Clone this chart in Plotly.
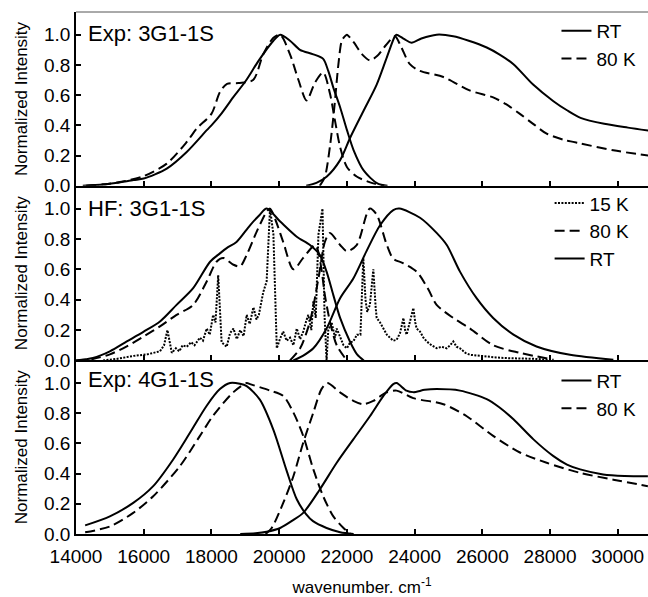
import plotly.graph_objects as go

FONT = "Liberation Sans, Arial, sans-serif"

# ---------------- Panel 1: Exp: 3G1-1S ----------------
p1_rt_em_x = [14200, 14800, 15200, 15700, 16000, 16680, 17270, 17870, 18000, 18300, 18640, 19000, 19400, 19830, 20030,
              20320, 20615, 21010, 21300, 21450, 21600, 21800, 22000, 22200, 22500, 22900, 23200]
p1_rt_em_y = [0.0, 0.008, 0.02, 0.038, 0.048, 0.114, 0.224, 0.37, 0.40, 0.48, 0.585, 0.69, 0.83, 0.96, 1.0,
              0.96, 0.90, 0.87, 0.84, 0.76, 0.65, 0.52, 0.37, 0.235, 0.10, 0.016, 0.0]
p1_80_em_x = [14300, 14800, 15300, 16000, 16680, 17270, 17570, 18000, 18250, 18460, 18800, 19230, 19530, 19830, 20030,
              20320, 20570, 20810, 21060, 21300, 21500, 21650, 21800, 22000, 22300, 22780, 23100]
p1_80_em_y = [0.0, 0.01, 0.025, 0.064, 0.147, 0.29, 0.38, 0.476, 0.62, 0.675, 0.68, 0.70, 0.87, 0.98, 1.0,
              0.87, 0.70, 0.565, 0.684, 0.75, 0.61, 0.43, 0.257, 0.125, 0.06, 0.016, 0.0]
p1_rt_ex_x = [20800, 21100, 21400, 21800, 22100, 22500, 22880, 23180, 23420, 23470, 23700, 23910, 24200, 24650, 25140,
              25600, 26130, 26500, 26920, 27500, 28100, 28500, 28900, 29600, 30300, 30900]
p1_rt_ex_y = [0.0, 0.02, 0.06, 0.17, 0.32, 0.50, 0.67, 0.85, 0.99, 1.0, 0.97, 0.947, 0.975, 1.0, 0.99,
              0.96, 0.915, 0.87, 0.805, 0.67, 0.56, 0.50, 0.45, 0.41, 0.385, 0.366]
p1_80_ex_x = [21200, 21350, 21500, 21630, 21750, 21850, 21944, 22000, 22200, 22450, 22680, 22900, 23150, 23420, 23600,
              23860, 24160, 24850, 25640, 26320, 26700, 27110, 27500, 27900, 28400, 28900, 29870, 30900]
p1_80_ex_y = [0.0, 0.06, 0.26, 0.52, 0.805, 0.96, 0.99, 1.0, 0.95, 0.87, 0.83, 0.86, 0.93, 0.99, 0.92,
              0.805, 0.76, 0.72, 0.63, 0.585, 0.54, 0.476, 0.41, 0.345, 0.305, 0.28, 0.235, 0.20]

# ---------------- Panel 2: HF: 3G1-1S ----------------
p2_15_x = [14800, 15200, 15700, 16100, 16480, 16600, 16700, 16760, 16830, 16950, 17050, 17150, 17270, 17400, 17500,
           17660, 17750, 17860, 17950, 18050, 18120, 18200, 18300, 18450, 18550, 18650, 18750, 18850, 18950, 19040,
           19130, 19240, 19330, 19400, 19530, 19630, 19730, 19830, 19930, 20020, 20120, 20220, 20320, 20420, 20520,
           20620, 20710, 20800, 20860, 20950, 21010, 21080, 21160, 21280, 21340, 21400, 21450, 21550, 21650, 21700,
           21800, 21900, 22000, 22100, 22190, 22300, 22400, 22485, 22550, 22600, 22680, 22781, 22850, 22880, 22980,
           23080, 23180, 23270, 23370, 23470, 23570, 23670, 23720, 23766, 23860, 23963, 24020, 24060, 24160, 24260,
           24357, 24500, 24652, 24800, 24947, 25050, 25143, 25240, 25341, 25500, 25636, 25900, 26130, 26400, 26620,
           27100, 27606, 28100]
p2_15_y = [0.0, 0.01, 0.03, 0.04, 0.06, 0.10, 0.20, 0.12, 0.05, 0.08, 0.06, 0.10, 0.09, 0.12, 0.10,
           0.15, 0.13, 0.21, 0.17, 0.30, 0.25, 0.56, 0.12, 0.09, 0.18, 0.21, 0.14, 0.20, 0.16, 0.30,
           0.24, 0.35, 0.27, 0.30, 0.45, 0.52, 1.0, 0.83, 0.08, 0.14, 0.19, 0.13, 0.15, 0.10, 0.21,
           0.14, 0.19, 0.26, 0.30, 0.20, 0.39, 0.28, 0.83, 1.0, 0.30, 0.0, 0.20, 0.25, 0.15, 0.21,
           0.15, 0.10, 0.08, 0.12, 0.125, 0.17, 0.17, 0.675, 0.40, 0.32, 0.366, 0.60, 0.35, 0.28, 0.25,
           0.21, 0.17, 0.15, 0.13, 0.136, 0.18, 0.28, 0.20, 0.17, 0.25, 0.345, 0.25, 0.21, 0.19, 0.15,
           0.125, 0.10, 0.08, 0.09, 0.08, 0.10, 0.125, 0.09, 0.08, 0.05, 0.037, 0.03, 0.026, 0.02, 0.016,
           0.012, 0.01, 0.0]
p2_80_em_x = [14000, 14500, 15000, 15500, 16000, 16480, 16970, 17460, 17860, 18150, 18350, 18650, 18850, 19040, 19340,
              19630, 19730, 19900, 20120, 20420, 20710, 21060, 21150, 21260, 21350, 21500, 21700, 22000]
p2_80_em_y = [0.0, 0.01, 0.04, 0.093, 0.158, 0.224, 0.30, 0.366, 0.52, 0.65, 0.675, 0.63, 0.62, 0.695, 0.85,
              0.98, 1.0, 0.92, 0.78, 0.60, 0.675, 0.76, 0.72, 0.585, 0.43, 0.257, 0.10, 0.0]
p2_80_ex_x = [20320, 20620, 20910, 21160, 21350, 21500, 21800, 22000, 22290, 22580, 22680, 22880, 23180, 23370, 23670,
              24060, 24400, 24650, 25140, 25640, 26320, 27110, 28100]
p2_80_ex_y = [0.0, 0.08, 0.257, 0.54, 0.78, 0.84, 0.76, 0.72, 0.76, 0.96, 1.0, 0.96, 0.76, 0.67, 0.64,
              0.585, 0.47, 0.366, 0.28, 0.21, 0.10, 0.05, 0.005]
p2_rt_em_x = [14000, 14500, 15000, 15500, 16000, 16480, 16970, 17460, 17960, 18250, 18450, 18740, 19140, 19430, 19630,
              20030, 20520, 20910, 21200, 21400, 21600, 21800, 22090, 22300, 22500]
p2_rt_em_y = [0.0, 0.016, 0.06, 0.125, 0.19, 0.257, 0.366, 0.476, 0.65, 0.705, 0.74, 0.78, 0.89, 0.96, 1.0,
              0.915, 0.815, 0.76, 0.695, 0.585, 0.43, 0.28, 0.125, 0.04, 0.0]
p2_rt_ex_x = [20420, 20700, 21010, 21400, 21800, 22190, 22580, 22980, 23370, 23550, 24160, 24650, 24950, 25340, 25830,
              26320, 26920, 27600, 28590, 29870]
p2_rt_ex_y = [0.0, 0.03, 0.08, 0.21, 0.41, 0.54, 0.72, 0.89, 0.99, 1.0, 0.94, 0.84, 0.76, 0.585, 0.41,
              0.28, 0.17, 0.092, 0.037, 0.005]

# ---------------- Panel 3: Exp: 4G1-1S ----------------
p3_rt_em_x = [14270, 15000, 15690, 16280, 16870, 17370, 17860, 18250, 18550, 18840, 19040, 19430, 19830, 20220, 20520,
              20800, 21000, 21400, 21800, 22200]
p3_rt_em_y = [0.057, 0.117, 0.206, 0.317, 0.494, 0.672, 0.85, 0.96, 1.0, 0.995, 0.98, 0.89, 0.69, 0.42, 0.23,
              0.13, 0.085, 0.04, 0.012, 0.0]
p3_80_em_x = [14270, 15000, 15690, 16280, 17070, 17660, 18050, 18650, 19040, 19140, 19730, 20120, 20420, 20710, 21010,
              21300, 21600, 21900, 22100]
p3_80_em_y = [0.011, 0.05, 0.14, 0.25, 0.45, 0.65, 0.784, 0.94, 1.0, 0.993, 0.95, 0.915, 0.805, 0.65, 0.428,
              0.25, 0.117, 0.04, 0.0]
p3_rt_ex_x = [18850, 19300, 19630, 20030, 20400, 20710, 21200, 21700, 22190, 22680, 23080, 23370, 23470, 23760, 23960,
              24300, 24650, 25340, 26130, 26500, 26920, 27510, 28100, 28500, 28890, 29570, 30200, 30890]
p3_rt_ex_y = [0.0, 0.005, 0.015, 0.04, 0.09, 0.14, 0.295, 0.472, 0.627, 0.78, 0.915, 0.993, 1.0, 0.95, 0.94,
              0.955, 0.96, 0.95, 0.894, 0.84, 0.76, 0.627, 0.516, 0.46, 0.428, 0.395, 0.385, 0.383]
p3_80_ex_x = [19600, 19780, 20120, 20420, 20710, 21010, 21250, 21420, 21800, 22190, 22480, 22780, 23170, 23470, 23960,
              24850, 25540, 26320, 27110, 27900, 28890, 29870, 30890]
p3_80_ex_y = [0.0, 0.04, 0.206, 0.383, 0.605, 0.805, 0.96, 1.0, 0.938, 0.882, 0.86, 0.882, 0.938, 0.95, 0.90,
              0.86, 0.78, 0.65, 0.54, 0.472, 0.405, 0.36, 0.317]

x_ticks = [14000, 16000, 18000, 20000, 22000, 24000, 26000, 28000, 30000]
x_tick_labels = ["14000", "16000", "18000", "20000", "22000", "24000", "26000", "28000", "30000"]
y_ticks = [0.0, 0.2, 0.4, 0.6, 0.8, 1.0]
y_tick_labels = ["0.0", "0.2", "0.4", "0.6", "0.8", "1.0"]
panel_titles = ["Exp: 3G1-1S", "HF: 3G1-1S", "Exp: 4G1-1S"]

DASH = "10px,5px"
DOT = "2px,1.4px"

fig = go.Figure()


def add(x, y, dash, name, legend, xa, ya, show, width=2.0, shape="spline"):
    fig.add_trace(go.Scatter(
        x=x, y=y, mode="lines", name=name, legendgroup=legend + name, showlegend=show,
        legend=legend, xaxis=xa, yaxis=ya, hoverinfo="skip",
        line=dict(color="black", width=width, dash=dash, shape=shape,
                  smoothing=0.8 if shape == "spline" else None)))


# panel 1 (top)
add(p1_rt_em_x, p1_rt_em_y, "solid", "RT", "legend", "x3", "y3", True)
add(p1_rt_ex_x, p1_rt_ex_y, "solid", "RT", "legend", "x3", "y3", False)
add(p1_80_em_x, p1_80_em_y, DASH, "80 K", "legend", "x3", "y3", True)
add(p1_80_ex_x, p1_80_ex_y, DASH, "80 K", "legend", "x3", "y3", False)
# panel 2 (middle)
add(p2_15_x, p2_15_y, DOT, "15 K", "legend2", "x2", "y2", True, width=2.0, shape="linear")
add(p2_80_em_x, p2_80_em_y, DASH, "80 K", "legend2", "x2", "y2", True)
add(p2_80_ex_x, p2_80_ex_y, DASH, "80 K", "legend2", "x2", "y2", False)
add(p2_rt_em_x, p2_rt_em_y, "solid", "RT", "legend2", "x2", "y2", True)
add(p2_rt_ex_x, p2_rt_ex_y, "solid", "RT", "legend2", "x2", "y2", False)
# panel 3 (bottom)
add(p3_rt_em_x, p3_rt_em_y, "solid", "RT", "legend3", "x", "y", True)
add(p3_rt_ex_x, p3_rt_ex_y, "solid", "RT", "legend3", "x", "y", False)
add(p3_80_em_x, p3_80_em_y, DASH, "80 K", "legend3", "x", "y", True)
add(p3_80_ex_x, p3_80_ex_y, DASH, "80 K", "legend3", "x", "y", False)

xbase = dict(range=[14000, 30893], tickvals=x_ticks, ticktext=x_tick_labels, ticks="inside", ticklen=5,
             tickwidth=1.5, tickcolor="black", showline=True, linecolor="black", linewidth=2,
             showgrid=False, zeroline=False, tickfont=dict(size=19, color="black", family=FONT))
ybase = dict(range=[0, 1.15], tickvals=y_ticks, ticktext=y_tick_labels, ticks="inside", ticklen=5,
             tickwidth=1.5, tickcolor="black", showline=True, linecolor="black", linewidth=1.5,
             showgrid=False, zeroline=False, tickfont=dict(size=19, color="black", family=FONT),
             title=dict(text="Normalized Intensity", font=dict(size=17, color="black", family=FONT),
                        standoff=12))

legbase = dict(font=dict(size=19, color="black", family=FONT), bgcolor="rgba(0,0,0,0)",
               borderwidth=0, xanchor="left", yanchor="top", tracegroupgap=0)

fig.update_layout(
    width=648, height=597,
    margin=dict(l=76, r=0, t=12, b=63),
    paper_bgcolor="white", plot_bgcolor="white",
    font=dict(family=FONT, color="black"),
    xaxis=dict(xbase, anchor="y", ticklabelstandoff=4,
               title=dict(text="wavenumber. cm<sup>-1</sup>",
                          font=dict(size=17, color="black", family=FONT), standoff=18)),
    xaxis2=dict(xbase, anchor="y2", matches="x", showticklabels=False),
    xaxis3=dict(xbase, anchor="y3", matches="x", showticklabels=False),
    yaxis=dict(ybase, domain=[0, 0.3325], anchor="x"),
    yaxis2=dict(ybase, domain=[0.3325, 0.667], anchor="x2"),
    yaxis3=dict(ybase, domain=[0.667, 1.0], anchor="x3"),
    legend=dict(legbase, x=0.84, y=1.0),
    legend2=dict(legbase, x=0.828, y=0.67),
    legend3=dict(legbase, x=0.84, y=0.33),
    showlegend=True,
    shapes=[dict(type="line", xref="paper", yref="paper", x0=0, x1=1, y0=1, y1=1,
                 line=dict(color="#555555", width=1))],
)

ann_y = [0.959, 0.6245, 0.2953]
for t, yy in zip(panel_titles, ann_y):
    fig.add_annotation(text=t, xref="paper", yref="paper", x=0.0175, y=yy, xanchor="left",
                       yanchor="middle", showarrow=False,
                       font=dict(size=22, color="black", family=FONT))

fig.write_html("out.html")
